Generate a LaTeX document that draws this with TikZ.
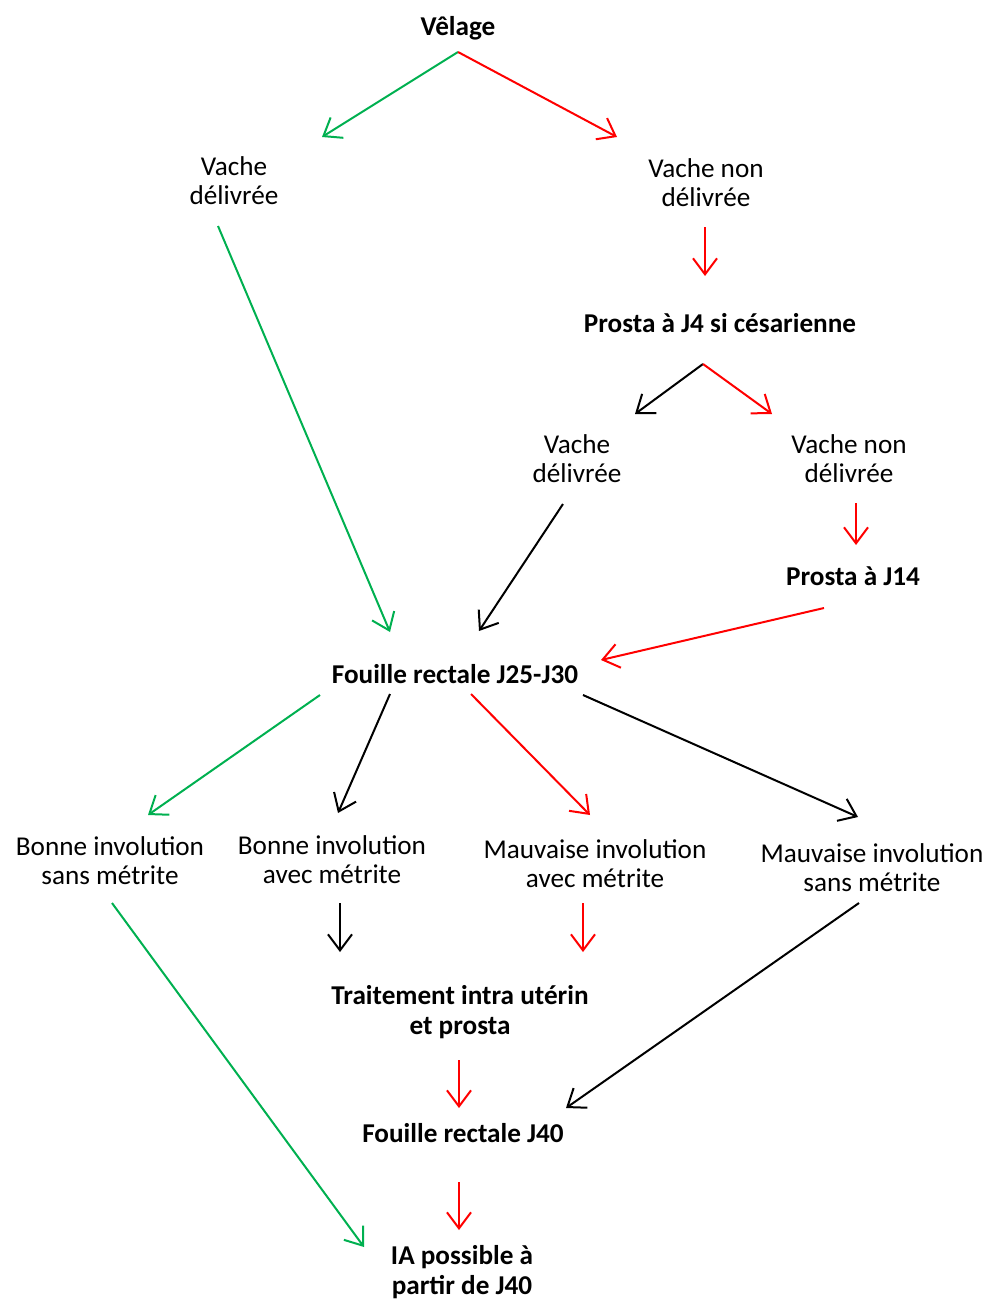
\documentclass[tikz,border=0pt]{standalone}
\usepackage{fontspec}
\setmainfont{Carlito}
\usetikzlibrary{arrows.meta}
\definecolor{vgreen}{RGB}{0,176,80}
\definecolor{vred}{RGB}{255,0,0}
\begin{document}
\begin{tikzpicture}[x=0.5pt,y=-0.5pt,
  lbl/.style={inner sep=0pt,align=center,font=\fontsize{13.6}{14.6}\selectfont},
  blbl/.style={lbl,font=\fontsize{13.6}{14.6}\selectfont\bfseries},
  arr/.style={line width=1pt,-{Straight Barb[length=8pt,width=12pt,line width=1pt]}},
  garr/.style={arr,vgreen},
  rarr/.style={arr,vred},
  karr/.style={arr,black}]
\useasboundingbox (0,0) rectangle (990,1302);
\node[blbl] (vel) at (458,28) {Vêlage};
\node[lbl] (vd1) at (234,181) {Vache\\délivrée};
\node[lbl] (vnd1) at (706,183) {Vache non\\délivrée};
\node[blbl] (p4) at (720,323) {Prosta à J4 si césarienne};
\node[lbl] (vd2) at (577,459) {Vache\\délivrée};
\node[lbl] (vnd2) at (849,459) {Vache non\\délivrée};
\node[blbl] (p14) at (853,576) {Prosta à J14};
\node[blbl] (f1) at (455,674) {Fouille rectale J25-J30};
\node[lbl] (b1) at (110,861) {Bonne involution\\sans métrite};
\node[lbl] (b2) at (332,860) {Bonne involution\\avec métrite};
\node[lbl] (m1) at (595,864) {Mauvaise involution\\avec métrite};
\node[lbl] (m2) at (872,868) {Mauvaise involution\\sans métrite};
\node[blbl] (t) at (460,1012) {Traitement intra utérin\\et prosta};
\node[blbl] (f40) at (463,1133) {Fouille rectale J40};
\node[blbl] (ia) at (462,1272) {IA possible à\\partir de J40};

\draw[garr] ([shift={(0,24)}]vel.center) -- ([shift={(88,-44)}]vd1.center);
\draw[rarr] ([shift={(0,24)}]vel.center) -- ([shift={(-89,-46)}]vnd1.center);
\draw[garr] ([shift={(-16,45)}]vd1.center) -- ([shift={(-65,-42)}]f1.center);
\draw[rarr] ([shift={(-1,44)}]vnd1.center) -- ([shift={(-15,-47)}]p4.center);
\draw[karr] ([shift={(-17,41)}]p4.center) -- ([shift={(58,-45)}]vd2.center);
\draw[rarr] ([shift={(-17,41)}]p4.center) -- ([shift={(-77,-45)}]vnd2.center);
\draw[karr] ([shift={(-14,45)}]vd2.center) -- ([shift={(24,-43)}]f1.center);
\draw[rarr] ([shift={(7,44)}]vnd2.center) -- ([shift={(3,-31)}]p14.center);
\draw[rarr] ([shift={(-29,32)}]p14.center) -- ([shift={(146,-14)}]f1.center);
\draw[garr] ([shift={(-135,21)}]f1.center) -- ([shift={(38,-46)}]b1.center);
\draw[karr] ([shift={(-65,20)}]f1.center) -- ([shift={(6,-47)}]b2.center);
\draw[rarr] ([shift={(16,20)}]f1.center) -- ([shift={(-5,-49)}]m1.center);
\draw[karr] ([shift={(128,21)}]f1.center) -- ([shift={(-14,-51)}]m2.center);
\draw[karr] ([shift={(8,43)}]b2.center) -- ([shift={(-120,-60)}]t.center);
\draw[rarr] ([shift={(-12,39)}]m1.center) -- ([shift={(123,-60)}]t.center);
\draw[karr] ([shift={(-13,35)}]m2.center) -- ([shift={(103,-25)}]f40.center);
\draw[rarr] ([shift={(-1,48)}]t.center) -- ([shift={(-4,-25)}]f40.center);
\draw[garr] ([shift={(2,42)}]b1.center) -- ([shift={(-98,-25)}]ia.center);
\draw[rarr] ([shift={(-4,49)}]f40.center) -- ([shift={(-3,-42)}]ia.center);
\end{tikzpicture}
\end{document}
